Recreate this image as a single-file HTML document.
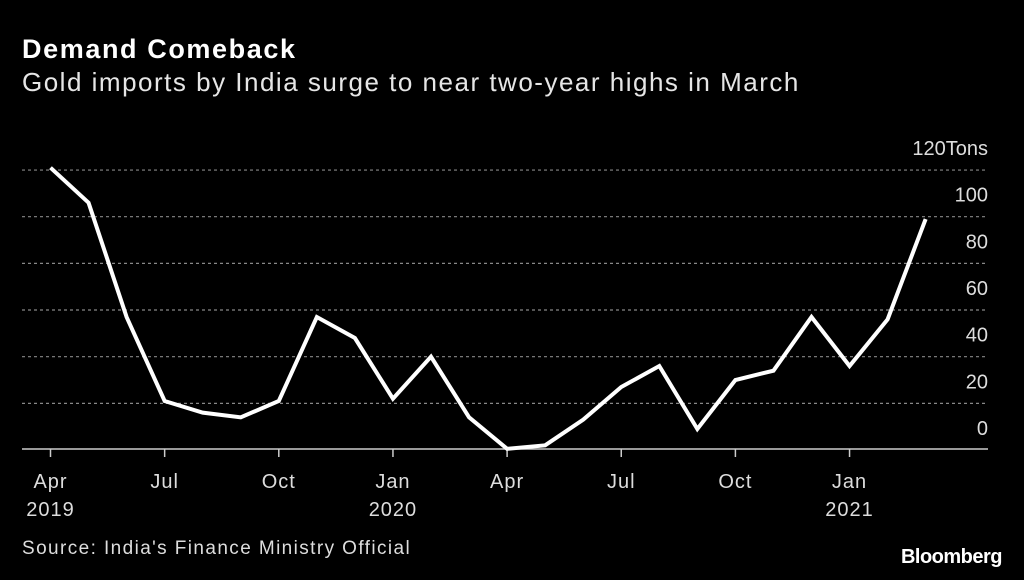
<!DOCTYPE html>
<html><head><meta charset="utf-8"><style>
html,body{margin:0;padding:0;background:#000;}
body{width:1024px;height:580px;overflow:hidden;font-family:"Liberation Sans",sans-serif;color:#fff;position:relative;}
.t{position:absolute;white-space:nowrap;}
</style></head><body>
<div class="t" style="left:22px;top:34px;font-size:27px;font-weight:bold;letter-spacing:1.6px;">Demand Comeback</div>
<div class="t" style="left:22px;top:67px;font-size:26px;color:#e6e6e6;letter-spacing:1.5px;">Gold imports by India surge to near two-year highs in March</div>
<svg id="c" width="1024" height="580" style="position:absolute;left:0;top:0"></svg>
<div class="t" style="left:22px;top:538px;font-size:19px;color:#ddd;letter-spacing:1.4px;">Source: India's Finance Ministry Official</div>
<div class="t" style="right:22px;top:546px;font-size:20px;font-weight:bold;letter-spacing:-0.5px;">Bloomberg</div>
<script>
const months=["Apr19","May19","Jun19","Jul19","Aug19","Sep19","Oct19","Nov19","Dec19","Jan20","Feb20","Mar20","Apr20","May20","Jun20","Jul20","Aug20","Sep20","Oct20","Nov20","Dec20","Jan21","Feb21","Mar21"];
const values=[121,106,57,21,16,14,21,57,48,22,40,14,0.5,2,13,27,36,9,30,34,57,36,56,99];
const yTicks=[0,20,40,60,80,100,120];
const xTickIdx=[0,3,6,9,12,15,18,21];
const xTickTop=["Apr","Jul","Oct","Jan","Apr","Jul","Oct","Jan"];
const xTickBottom=["2019","","","2020","","","","2021"];
const NS="http://www.w3.org/2000/svg";
const svg=document.getElementById('c');
const x=i=>50.5+i*38.05;
const y=v=>450-v*2.333;
function mk(t,a){const e=document.createElementNS(NS,t);for(const k in a)e.setAttribute(k,a[k]);svg.appendChild(e);return e;}
yTicks.forEach(v=>{
  if(v>0){
    const g=mk('line',{x1:22,x2:988,y1:y(v),y2:y(v),stroke:'#888','stroke-width':1.2,'stroke-dasharray':'3,3'});
    
    
  }
  const tx=mk('text',{x:988,y:y(v)-15,'text-anchor':'end',fill:'#ddd','font-size':20,'font-family':'Liberation Sans, sans-serif'});
  tx.textContent=v===120?'120Tons':String(v);
  
  
});
const base=mk('line',{x1:22,x2:988,y1:449,y2:449,stroke:'#ccc','stroke-width':1.5});


xTickIdx.forEach((i,k)=>{
  const tk=mk('line',{x1:x(i),x2:x(i),y1:449,y2:457,stroke:'#ccc','stroke-width':1.5});
  
  
  const t1=mk('text',{x:x(i),y:488,'text-anchor':'middle',fill:'#ddd','font-size':20,'letter-spacing':1,'font-family':'Liberation Sans, sans-serif'});
  t1.textContent=xTickTop[k];
  
  
  if(xTickBottom[k]){
    const t2=mk('text',{x:x(i),y:516,'text-anchor':'middle',fill:'#ddd','font-size':20,'letter-spacing':1,'font-family':'Liberation Sans, sans-serif'});
    t2.textContent=xTickBottom[k];
    
    
  }
});
const p=mk('polyline',{points:values.map((v,i)=>x(i)+','+y(v)).join(' '),fill:'none',stroke:'#fff','stroke-width':4,'stroke-linejoin':'miter'});


</script>
</body></html>
